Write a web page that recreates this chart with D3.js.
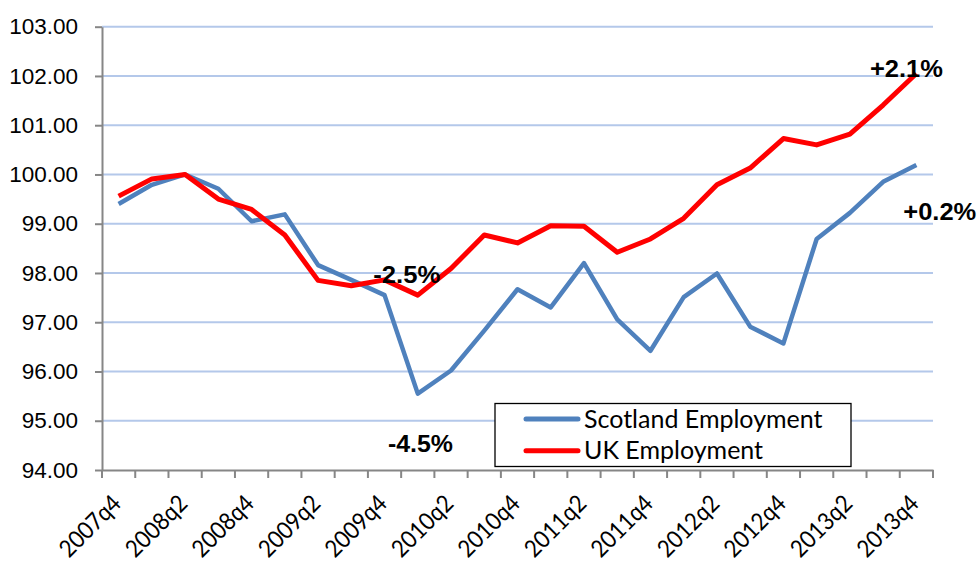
<!DOCTYPE html>
<html><head><meta charset="utf-8">
<script src="https://cdn.jsdelivr.net/npm/d3@7"></script>
<style>html,body{margin:0;padding:0;background:#fff;}svg{display:block;}</style>
</head><body>
<svg id="chart" width="979" height="563"></svg>
<script>
const categories = ["2007q4","2008q1","2008q2","2008q3","2008q4","2009q1","2009q2","2009q3","2009q4","2010q1","2010q2","2010q3","2010q4","2011q1","2011q2","2011q3","2011q4","2012q1","2012q2","2012q3","2012q4","2013q1","2013q2","2013q3","2013q4"];
const scotland = [99.40,99.79,100.00,99.71,99.05,99.19,98.16,97.86,97.55,95.55,96.02,96.83,97.67,97.30,98.20,97.06,96.42,97.51,97.99,96.91,96.57,98.69,99.22,99.85,100.19];
const uk = [99.56,99.91,100.00,99.50,99.29,98.77,97.85,97.74,97.86,97.55,98.09,98.77,98.61,98.96,98.95,98.42,98.69,99.11,99.79,100.13,100.73,100.60,100.82,101.41,102.05];
const yTicks = [94,95,96,97,98,99,100,101,102,103];
const seriesNames = ["Scotland Employment","UK Employment"];
const annotations = [
  {text:"+2.1%", cat:"2013q4", val:102.05},
  {text:"+0.2%", cat:"2013q4", val:100.19},
  {text:"-2.5%", cat:"2010q1", val:97.55},
  {text:"-4.5%", cat:"2010q1", val:95.55}
];

const svg = d3.select("#chart");
const L = 102, R = 933, T = 26.7, B = 470;
const x = d3.scaleBand().domain(categories).range([L, R]);
const cx = c => x(c) + x.bandwidth()/2;
const y = d3.scaleLinear().domain([94,103]).range([B, T]);
const axisColor = "#868686";

// gridlines
svg.append("g").selectAll("line").data(yTicks.filter(v=>v>94)).join("line")
  .attr("x1", L).attr("x2", R).attr("y1", d=>y(d)).attr("y2", d=>y(d))
  .attr("stroke", "#b4c8ea").attr("stroke-width", 2);

// y axis
const yAxis = svg.append("g").attr("transform", `translate(${L},0)`)
  .call(d3.axisLeft(y).tickValues(yTicks).tickFormat(d3.format(".2f")).tickSizeOuter(0).tickSizeInner(7).tickPadding(17));
yAxis.select(".domain").attr("stroke", axisColor).attr("stroke-width", 2);
yAxis.selectAll(".tick line").attr("stroke", axisColor).attr("stroke-width", 2);
yAxis.selectAll(".tick text").attr("font-family", "'Liberation Sans', Arial, sans-serif").attr("font-size", 22.5).attr("fill", "#000");

// x axis
const xAxis = svg.append("g").attr("transform", `translate(0,${B})`)
  .call(d3.axisBottom(x).tickSize(0).tickFormat(""));
xAxis.select(".domain").attr("stroke", axisColor).attr("stroke-width", 2);
const bounds = categories.map(c => x(c)).concat([R]);
svg.append("g").selectAll("line").data(bounds).join("line")
  .attr("x1", d=>d).attr("x2", d=>d).attr("y1", B).attr("y2", B+8)
  .attr("stroke", axisColor).attr("stroke-width", 2);
svg.append("g").selectAll("text").data(categories.filter((c,i)=>i%2===0)).join("text")
  .attr("transform", c => `translate(${cx(c)+4},${505}) rotate(-45)`)
  .attr("text-anchor", "end")
  .attr("font-family", "Lato, 'Open Sans', sans-serif").attr("font-size", 24).attr("fill", "#000")
  .attr("textLength", 76).attr("lengthAdjust", "spacingAndGlyphs")
  .text(c => c);

// lines
const line = d3.line().x((d,i)=>cx(categories[i])).y(d=>y(d));
svg.append("path").datum(scotland).attr("d", line).attr("fill","none")
  .attr("stroke","#4f81bd").attr("stroke-width",4.5).attr("stroke-linejoin","round");
svg.append("path").datum(uk).attr("d", line).attr("fill","none")
  .attr("stroke","#ff0000").attr("stroke-width",5).attr("stroke-linejoin","round");

// annotations
const annPos = [
  {dx:-46.4, dy:3.2, w:73},
  {dx:-13.1, dy:55, w:73},
  {dx:-44.5, dy:-11.8, w:67},
  {dx:-29.8, dy:58, w:65}
];
svg.append("g").selectAll("text").data(annotations).join("text")
  .attr("x", (d,i)=>cx(d.cat)+annPos[i].dx)
  .attr("y", (d,i)=>y(d.val)+annPos[i].dy)
  .attr("textLength", (d,i)=>annPos[i].w).attr("lengthAdjust","spacingAndGlyphs")
  .attr("font-family", "'Liberation Sans', Arial, sans-serif").attr("font-weight","bold")
  .attr("font-size", 23).attr("fill","#000")
  .text(d=>d.text);

// legend
const lg = svg.append("g");
lg.append("rect").attr("x", 495).attr("y", 403.5).attr("width", 356).attr("height", 63)
  .attr("fill","#fff").attr("stroke","#000").attr("stroke-width",1.3);
const legColors = ["#4f81bd","#ff0000"];
seriesNames.forEach((n,i)=>{
  const ly = 419 + i*31.7;
  lg.append("line").attr("x1",526).attr("x2",578).attr("y1",ly).attr("y2",ly)
    .attr("stroke",legColors[i]).attr("stroke-width",5).attr("stroke-linecap","round");
  lg.append("text").attr("x",584).attr("y",ly+8.5)
    .attr("font-family","Lato, 'Open Sans', sans-serif").attr("font-size",25).attr("fill","#000")
    .text(n);
});
</script>
</body></html>
